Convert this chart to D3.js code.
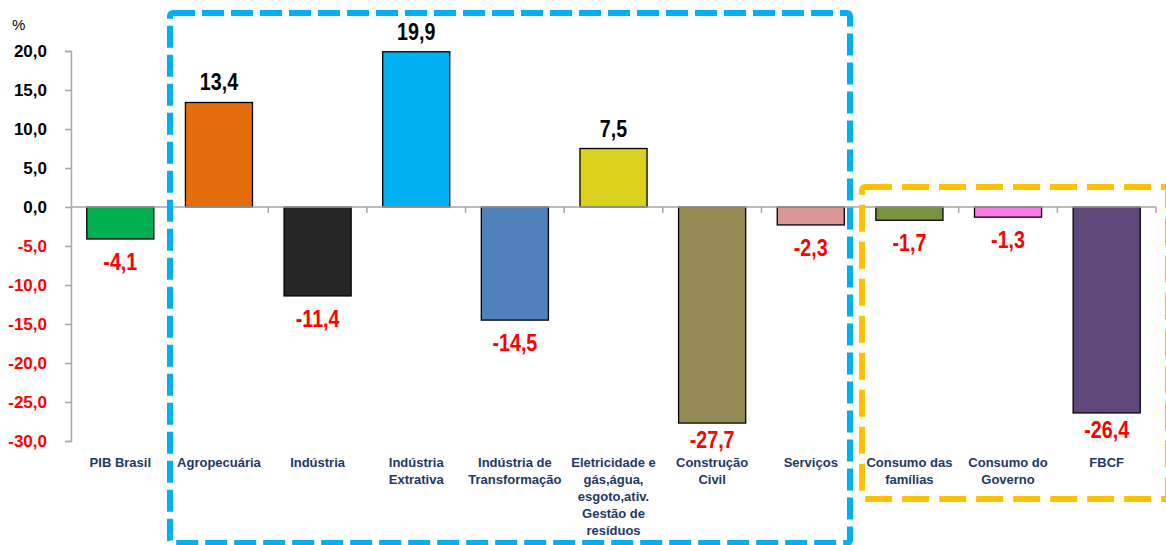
<!DOCTYPE html>
<html>

<head>
    <meta charset="utf-8">
    <script src="https://cdn.jsdelivr.net/npm/d3@7"></script>
    <style>
        body { margin: 0; background: #fff; }
        text { font-family: "Liberation Sans", Arial, sans-serif; }
        .val { font-weight: bold; font-size: 24px; }
        .tick { font-weight: bold; font-size: 17px; }
        .cat { font-weight: bold; font-size: 13px; fill: #1f3864; }
    </style>
</head>

<body>

    <script>
        // data
        var categories = ["PIB Brasil", "Agropecuária", "Indústria", "Indústria Extrativa",
            "Indústria de Transformação", "Eletricidade e gás,água, esgoto,ativ. Gestão de resíduos",
            "Construção Civil", "Serviços", "Consumo das famílias", "Consumo do Governo", "FBCF"];
        var catLines = [
            ["PIB Brasil"], ["Agropecuária"], ["Indústria"], ["Indústria", "Extrativa"],
            ["Indústria de", "Transformação"],
            ["Eletricidade e", "gás,água,", "esgoto,ativ.", "Gestão de", "resíduos"],
            ["Construção", "Civil"], ["Serviços"], ["Consumo das", "famílias"],
            ["Consumo do", "Governo"], ["FBCF"]
        ];
        var values = [-4.1, 13.4, -11.4, 19.9, -14.5, 7.5, -27.7, -2.3, -1.7, -1.3, -26.4];
        var colors = ["#00b050", "#e46c0a", "#262626", "#00b0f0", "#4f81bd", "#dad21c",
            "#948a54", "#d99694", "#77933c", "#ff79e6", "#5f497a"];
        var yTicks = [20, 15, 10, 5, 0, -5, -10, -15, -20, -25, -30];

        var width = 1166, height = 545;
        var fmt = function (v) { return d3.format(".1f")(v).replace(".", ",").replace("−", "-"); };

        var svg = d3.select('body')
            .append('svg')
            .attr('width', width)
            .attr('height', height);

        var x = d3.scaleBand()
            .domain(categories)
            .range([71, 1156])
            .paddingInner(0.32)
            .paddingOuter(0.16);

        var y = d3.scaleLinear()
            .domain([-30, 20])
            .range([441, 51]);

        // y axis
        var yAxis = svg.append('g')
            .attr('transform', 'translate(71,0)')
            .call(d3.axisLeft(y).tickValues(yTicks).tickSize(6).tickFormat(fmt));
        yAxis.select('.domain').attr('stroke', '#a6a6a6').attr('stroke-width', 1.5);
        yAxis.selectAll('.tick line').attr('stroke', '#a6a6a6').attr('stroke-width', 1.5);
        yAxis.selectAll('.tick text')
            .attr('class', 'tick')
            .attr('x', -24)
            .attr('font-family', null)
            .attr('font-size', null)
            .attr('fill', function (d) { return d < 0 ? '#ff0000' : '#000'; });

        svg.append('text')
            .attr('x', 12)
            .attr('y', 30)
            .attr('font-size', 15)
            .text('%');

        // bars
        var step = x.step();
        svg.selectAll('rect.bar')
            .data(values)
            .enter()
            .append('rect')
            .attr('class', 'bar')
            .attr('x', function (d, i) { return x(categories[i]); })
            .attr('width', x.bandwidth())
            .attr('y', function (d) { return y(Math.max(0, d)); })
            .attr('height', function (d) { return Math.abs(y(d) - y(0)); })
            .attr('fill', function (d, i) { return colors[i]; })
            .attr('stroke', '#000')
            .attr('stroke-width', 1.3);

        // zero line with category ticks
        svg.append('line')
            .attr('x1', 71).attr('x2', 1156)
            .attr('y1', y(0)).attr('y2', y(0))
            .attr('stroke', '#a6a6a6').attr('stroke-width', 1.5);
        svg.selectAll('line.ctick')
            .data(d3.range(1, categories.length + 1))
            .enter()
            .append('line')
            .attr('x1', function (i) { return 71 + i * step; })
            .attr('x2', function (i) { return 71 + i * step; })
            .attr('y1', y(0)).attr('y2', y(0) + 6)
            .attr('stroke', '#a6a6a6').attr('stroke-width', 1.5);

        // value labels (condensed, like Arial Narrow)
        svg.selectAll('text.val')
            .data(values)
            .enter()
            .append('text')
            .attr('class', 'val')
            .attr('text-anchor', 'middle')
            .attr('transform', function (d, i) {
                var cx = x(categories[i]) + x.bandwidth() / 2;
                var cy = d >= 0 ? y(d) - 12 : y(d) + (d < -25 ? 25 : 31);
                return 'translate(' + cx + ',' + cy + ') scale(0.82,1)';
            })
            .attr('fill', function (d) { return d < 0 ? '#ff0000' : '#000'; })
            .text(fmt);

        // category labels
        var cats = svg.selectAll('text.cat')
            .data(catLines)
            .enter()
            .append('text')
            .attr('class', 'cat')
            .attr('text-anchor', 'middle')
            .attr('y', 467);
        cats.selectAll('tspan')
            .data(function (d, i) { return d.map(function (s) { return { s: s, i: i }; }); })
            .enter()
            .append('tspan')
            .attr('x', function (d) { return x(categories[d.i]) + x.bandwidth() / 2; })
            .attr('dy', function (d, j) { return j === 0 ? 0 : 17; })
            .text(function (d) { return d.s; });

        // dashed highlight boxes
        svg.append('rect')
            .attr('x', 170).attr('y', 13)
            .attr('width', 680).attr('height', 530)
            .attr('rx', 3)
            .attr('fill', 'none')
            .attr('stroke', '#00b0f0')
            .attr('stroke-width', 6)
            .attr('stroke-dasharray', '22,7');

        svg.append('rect')
            .attr('x', 862).attr('y', 187)
            .attr('width', 306).attr('height', 312)
            .attr('rx', 3)
            .attr('fill', 'none')
            .attr('stroke', '#ffc000')
            .attr('stroke-width', 6)
            .attr('stroke-dasharray', '27,10');
    </script>

</body>

</html>
